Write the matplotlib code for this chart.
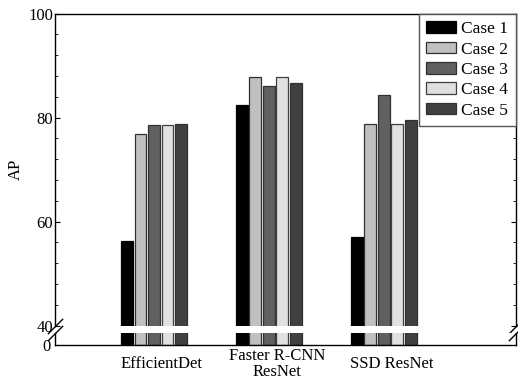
import numpy as np
import matplotlib
matplotlib.use("Agg")
import matplotlib.pyplot as plt
from matplotlib.ticker import MultipleLocator, FixedLocator

plt.rcParams['font.family'] = ['Liberation Serif', 'DejaVu Serif']
plt.rcParams['font.size'] = 12

# data
models = ["EfficientDet", "Faster R-CNN\nResNet", "SSD ResNet"]
cases = ["Case 1", "Case 2", "Case 3", "Case 4", "Case 5"]
case1 = [56.3, 82.5, 57.1]
case2 = [76.8, 87.7, 78.8]
case3 = [78.6, 86.1, 84.3]
case4 = [78.6, 87.7, 78.7]
case5 = [78.7, 86.6, 79.6]
series = [case1, case2, case3, case4, case5]

colors = ['#000000', '#c0c0c0', '#606060', '#e0e0e0', '#404040']
edges = ['#000000', '#303030', '#303030', '#404040', '#303030']

fig = plt.figure(figsize=(5.18, 3.81), dpi=100)
W, H = 518.0, 381.0
left, right = 55 / W, 516 / W
ax = fig.add_axes([left, 1 - 325.5 / H, right - left, (325.5 - 13.5) / H])
axb = fig.add_axes([left, 1 - 345 / H, right - left, (345 - 332.7) / H])

x = np.arange(len(models))
pitch = 0.1174
width = 0.102
for a in (ax, axb):
    for i, (vals, c, ec) in enumerate(zip(series, colors, edges)):
        a.bar(x + (i - 2) * pitch, vals, width, color=c, edgecolor=ec,
              linewidth=0.9, label=cases[i])
    a.set_xlim(-0.86, 3.15)

# upper part 40..100
ax.set_ylim(40, 100)
ax.yaxis.set_major_locator(MultipleLocator(20))
ax.yaxis.set_minor_locator(MultipleLocator(4))
ax.tick_params(axis='y', which='both', direction='in', left=True, right=True, pad=1.5)
ax.tick_params(axis='y', which='major', length=3.5)
ax.tick_params(axis='y', which='minor', length=2.5)
ax.tick_params(axis='x', bottom=False, labelbottom=False)
ax.spines['bottom'].set_visible(False)
ax.set_ylabel("AP", labelpad=3)

# lower part, just the zero
axb.set_ylim(0, 10)
axb.yaxis.set_major_locator(FixedLocator([0]))
axb.tick_params(axis='y', length=0, pad=3)
axb.spines['top'].set_visible(False)
axb.set_xticks(x + 0.07)
axb.set_xticklabels(models)
axb.tick_params(axis='x', length=0, pad=14)
for lbl in axb.get_xticklabels():
    lbl.set_verticalalignment('center')
    lbl.set_linespacing(1.0)

for a in (ax, axb):
    for s in a.spines.values():
        s.set_linewidth(1.0)

# break marks
kw = dict(marker=[(-1, -1), (1, 1)], markersize=11, linestyle='none',
          color='k', mec='k', mew=1, clip_on=False)
ax.plot([0, 1], [0, 0], transform=ax.transAxes, **kw)
axb.plot([0, 1], [1, 1], transform=axb.transAxes, **kw)

leg = ax.legend(loc='upper right', bbox_to_anchor=(1, 1), borderaxespad=0,
                fancybox=False, framealpha=1, edgecolor='#555555',
                handlelength=1.7, handleheight=0.65, labelspacing=0.25,
                borderpad=0.45, handletextpad=0.3, fontsize=12.5)
leg.get_frame().set_linewidth(1.0)

fig.savefig('out.png', dpi=100)
